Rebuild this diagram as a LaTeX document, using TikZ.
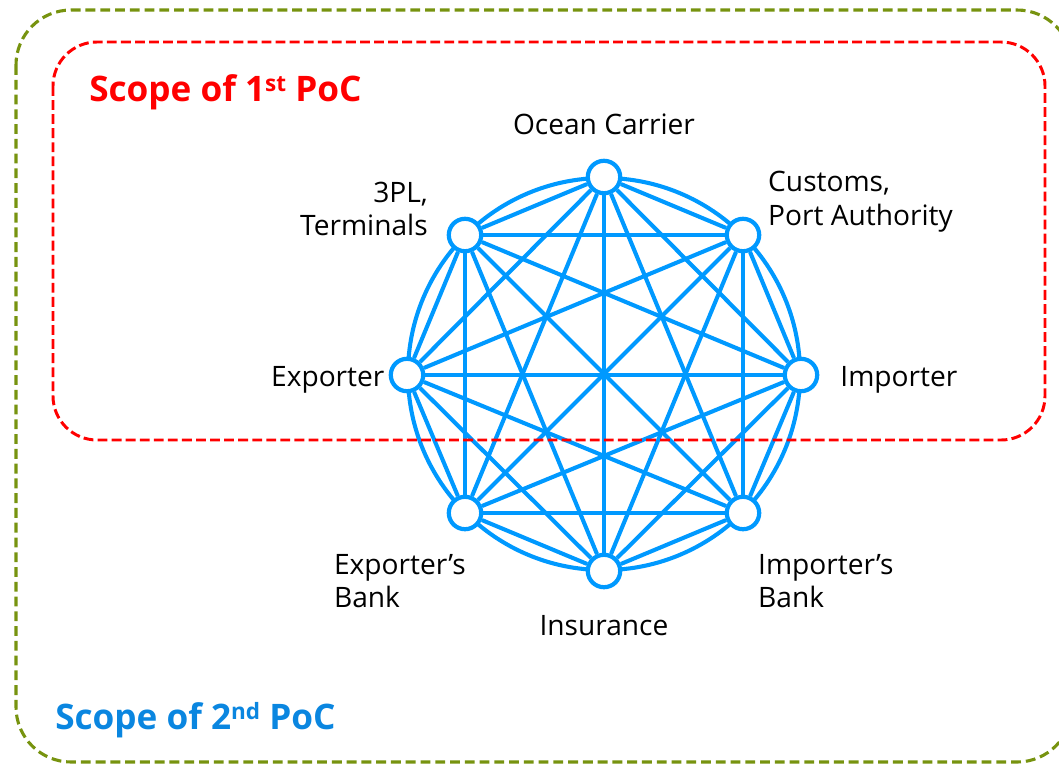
\documentclass[tikz,border=0pt]{standalone}
\usepackage{fontspec}
\setmainfont{Open Sans}
\usetikzlibrary{positioning, backgrounds}
\definecolor{hubblue}{RGB}{0,153,255}
\definecolor{pocred}{RGB}{255,0,0}
\definecolor{pocgreen}{RGB}{119,147,15}
\definecolor{titleblue}{RGB}{10,134,224}
\newcommand{\ordsup}[1]{\raisebox{7pt}{\fontsize{16}{16}\selectfont #1}}

\begin{document}
\begin{tikzpicture}[x=0.025cm, y=-0.025cm,
    party/.style={circle, draw=hubblue, fill=white, line width=3pt, minimum size=0.81cm, inner sep=0pt},
    link/.style={draw=hubblue, line width=2.9pt},
    lbl/.style={font=\fontsize{20}{23.5}\selectfont, inner sep=0pt},
    scopetitle/.style={font=\fontsize{25}{30}\selectfont\bfseries, anchor=west, inner sep=0pt}]
    \useasboundingbox (0,0) rectangle (1059,765);
    \clip (0,0) rectangle (1059,765);
    % scope frames
    \draw[pocgreen, line width=2.2pt, dash pattern=on 7pt off 3.5pt, rounded corners=1.375cm] (16,10) rectangle (1072,762);
    \draw[pocred, line width=2.1pt, dash pattern=on 7pt off 3pt, rounded corners=1.1cm] (53,42) rectangle (1045,440);
    \node[scopetitle, text=pocred] (first) at (89,92) {Scope of 1\ordsup{st} PoC};
    \node[scopetitle, text=titleblue] (second) at (55,720) {Scope of 2\ordsup{nd} PoC};

    % parties
    \coordinate (hub) at (604,374);
    \node[party] (ocean) at (604,177) {};
    \node[party] (customs) at (743,235) {};
    \node[party] (importer) at (801,375) {};
    \node[party] (imbank) at (743,513) {};
    \node[party] (insurance) at (604,571) {};
    \node[party] (exbank) at (465,513) {};
    \node[party] (exporter) at (407,375) {};
    \node[party] (tpl) at (465,235) {};

    \node[lbl, above=0.6cm of ocean] (oceanlbl) {Ocean Carrier};
    \node[lbl, align=left, above right=-0.25cm and 0.3cm of customs] (customslbl) {Customs,\\Port Authority};
    \node[lbl, right=0.52cm of importer, yshift=-0.13cm] (importerlbl) {Importer};
    \node[lbl, align=left, below right=0.7cm and 0.05cm of imbank] (imbanklbl) {Importer’s\\Bank};
    \node[lbl, below=0.65cm of insurance] (insurancelbl) {Insurance};
    \node[lbl, align=left, below left=0.7cm and -0.35cm of exbank] (exbanklbl) {Exporter’s\\Bank};
    \node[lbl, left=0.1cm of exporter, yshift=-0.13cm] (exporterlbl) {Exporter};
    \node[lbl, align=right, above left=-0.35cm and 0.6cm of tpl] (tpllbl) {3PL,\\Terminals};

    % every party talks to every other one
    \begin{scope}[on background layer]
        \draw[link] (hub) circle[radius=4.9cm];
        \foreach \a [count=\i] in {ocean,customs,importer,imbank,insurance,exbank,exporter,tpl}
            \foreach \b [count=\j] in {ocean,customs,importer,imbank,insurance,exbank,exporter,tpl}
                {\ifnum\j>\i \draw[link] (\a) -- (\b); \fi}
    \end{scope}
\end{tikzpicture}
\end{document}
